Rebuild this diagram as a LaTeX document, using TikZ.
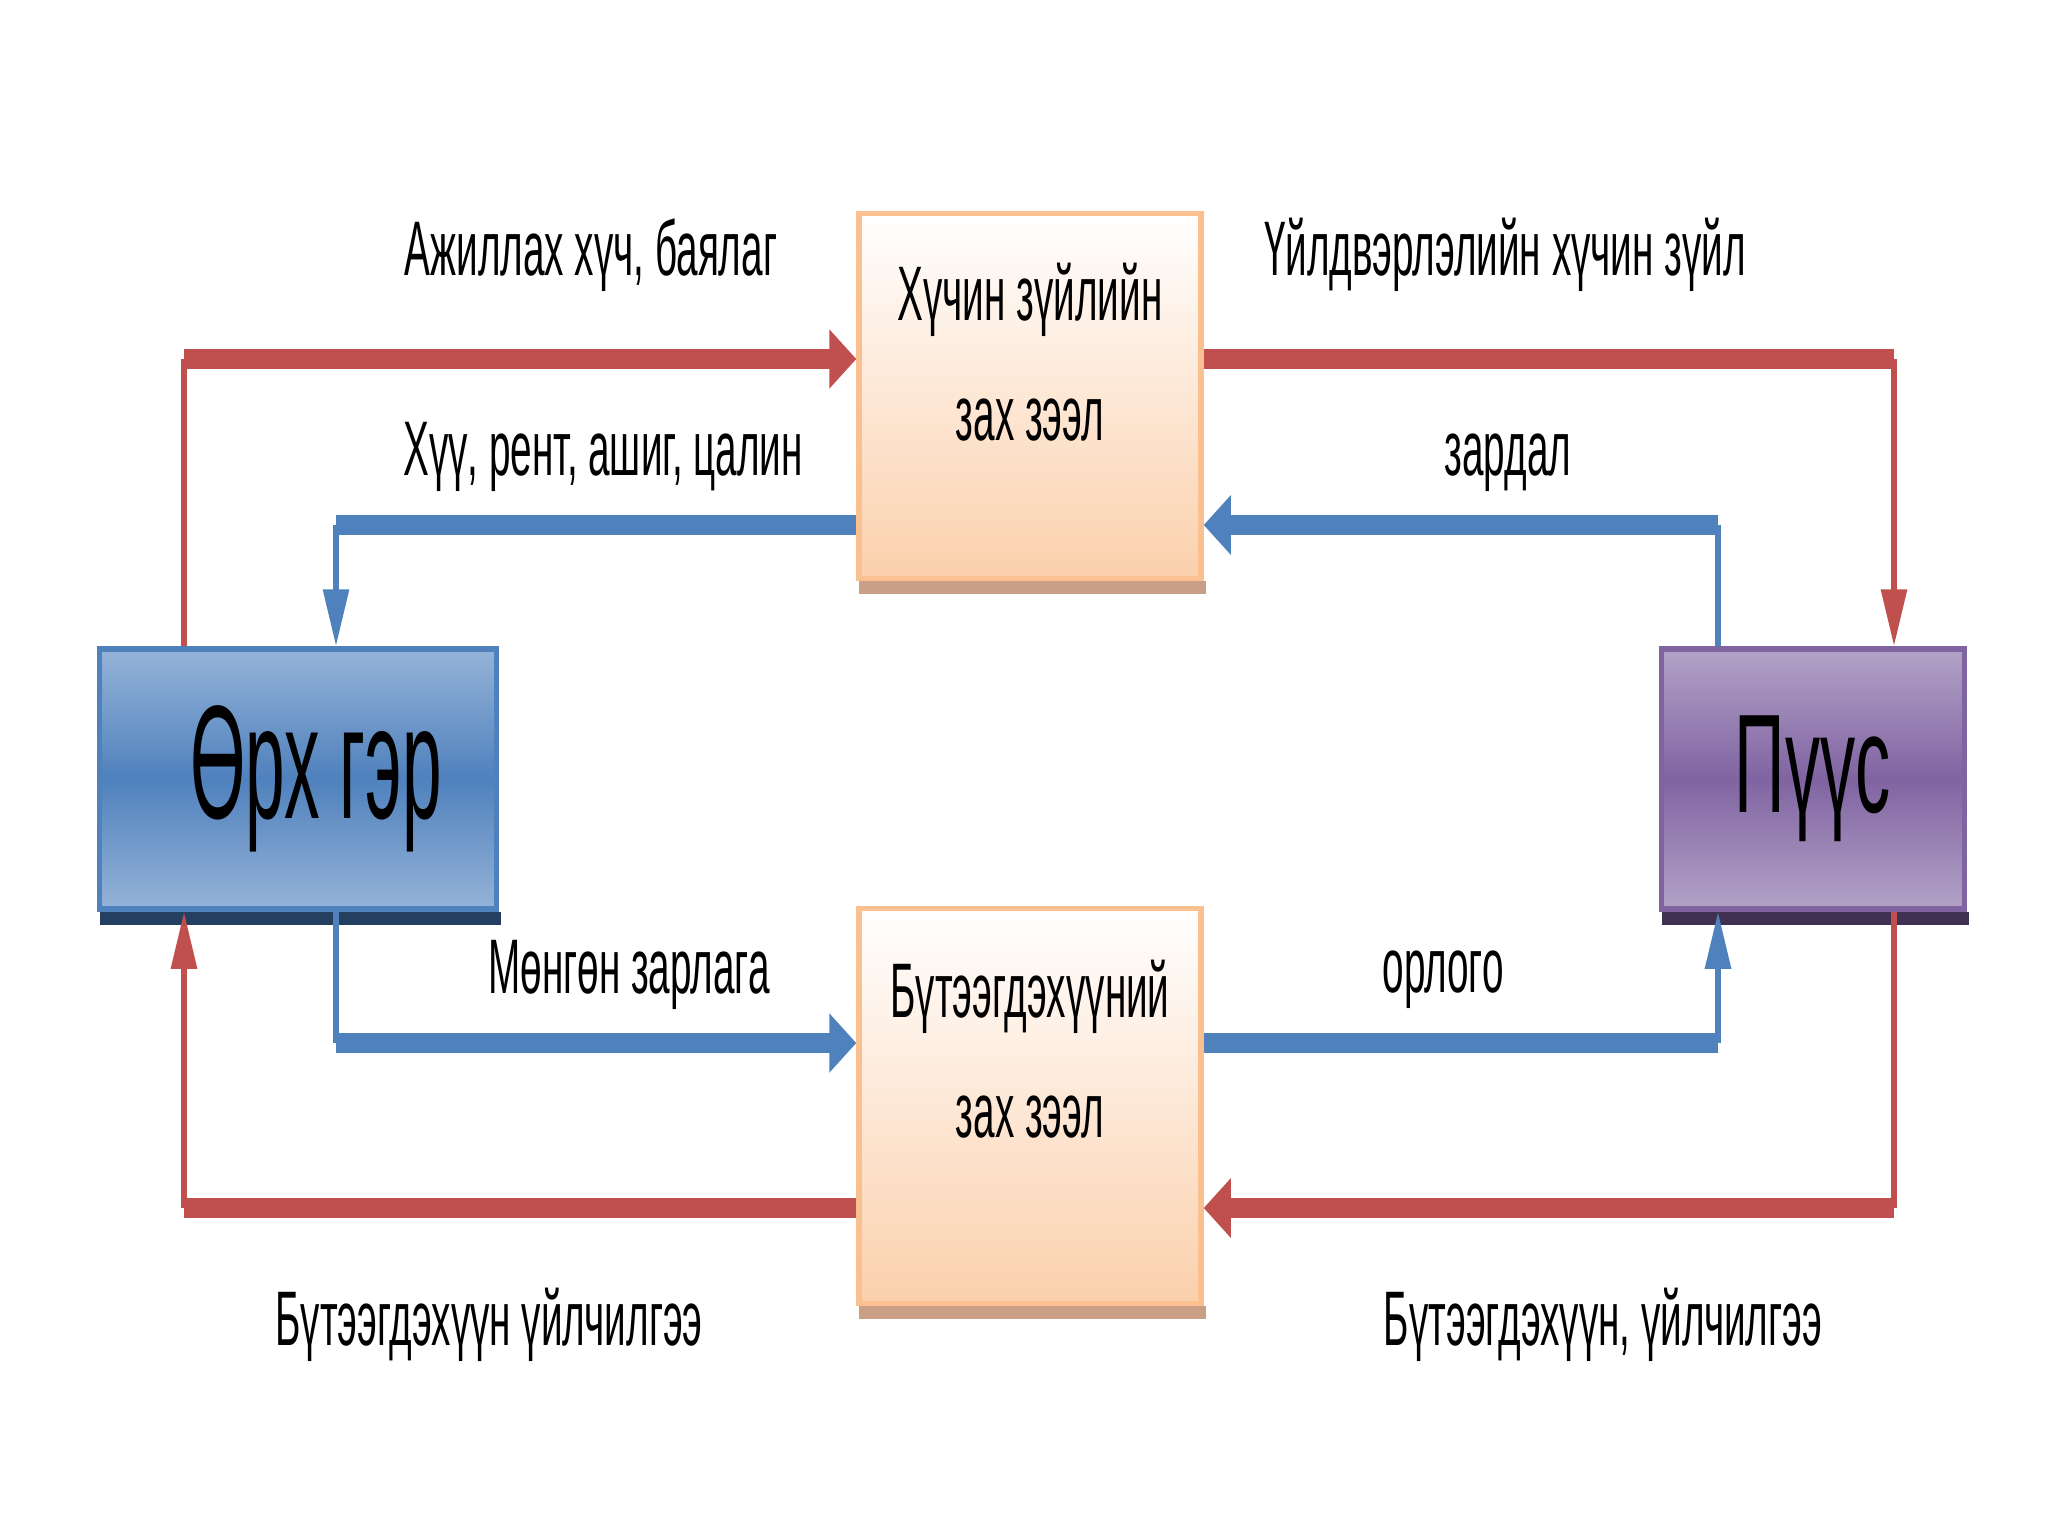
\documentclass[tikz,border=0pt]{standalone}
\usepackage{fontspec}
\setmainfont{Liberation Sans}[FakeStretch=0.5]
\newfontfamily\hhfont{Liberation Sans}[FakeStretch=0.44]
\usepackage{xcolor}
\usepackage{tikz}
\usetikzlibrary{positioning,arrows.meta,calc}

\definecolor{flowred}{HTML}{C0504D}
\definecolor{flowblue}{HTML}{4F81BD}
\definecolor{mktedge}{HTML}{FAC090}
\definecolor{mktfill}{HTML}{FBD0AC}
\definecolor{mktshade}{HTML}{C9A086}
\definecolor{hhlight}{HTML}{95B3D7}
\definecolor{hhshade}{HTML}{243F60}
\definecolor{firmlight}{HTML}{B3A2C7}
\definecolor{firmmid}{HTML}{8064A2}
\definecolor{firmshade}{HTML}{403152}

\tikzset{
  lbl/.style={anchor=base, inner sep=0pt, font=\fontsize{22}{26}\selectfont},
  mktbox/.style={draw=mktedge, line width=1.5pt, top color=white, bottom color=mktfill,
    minimum width=3.42cm, minimum height=3.65cm, inner sep=0pt},
  mkttext/.style={align=center, inner sep=0pt, font=\fontsize{22}{34}\selectfont},
  hhbox/.style={draw=flowblue, line width=1.5pt, top color=hhlight, bottom color=hhlight,
    middle color=flowblue, minimum width=3.97cm, minimum height=2.6cm},
  firmbox/.style={draw=firmmid, line width=1.5pt, top color=firmlight, bottom color=firmlight,
    middle color=firmmid, minimum width=3.03cm, minimum height=2.6cm,
    font=\fontsize{40}{44}\selectfont},
  redthick/.style={draw=flowred, line width=0.2cm},
  redthin/.style={draw=flowred, line width=0.06cm},
  bluethick/.style={draw=flowblue, line width=0.2cm},
  bluethin/.style={draw=flowblue, line width=0.06cm},
  tipwide/.style={-{Triangle[width=0.58cm,length=0.27cm]}},
  tiplong/.style={-{Triangle[width=0.25cm,length=0.57cm]}},
}

\begin{document}
\begin{tikzpicture}[x=0.01cm, y=-0.01cm]
  \useasboundingbox (0,0) rectangle (2048,1536);
  % boxes
  \node[hhbox] (hh) at (298,779) {};
  \node[inner sep=0pt, font=\hhfont\fontsize{46}{50}\selectfont] (hhtext)
    at ($(hh.center)+(0.18cm,0)$) {Өрх гэр};
  \node[firmbox] (firm) at (1813,779) {Пүүс};
  \node[mktbox] (fm) at (1030,396) {};
  \node[mktbox, minimum height=3.95cm] (pm) at (1030,1106) {};
  \node[mkttext, below=0.52cm of fm.north] (fmtext) {Хүчин зүйлийн\\зах зээл};
  \node[mkttext, below=0.54cm of pm.north] (pmtext) {Бүтээгдэхүүний\\зах зээл};
  % shadows under the boxes
  \fill[hhshade] ($(hh.south west)+(0.03cm,0)$) rectangle ($(hh.south east)+(0.02cm,-0.13cm)$);
  \fill[firmshade] ($(firm.south west)+(0.03cm,0)$) rectangle ($(firm.south east)+(0.02cm,-0.13cm)$);
  \fill[mktshade] ($(fm.south west)+(0.03cm,0)$) rectangle ($(fm.south east)+(0.02cm,-0.13cm)$);
  \fill[mktshade] ($(pm.south west)+(0.03cm,0)$) rectangle ($(pm.south east)+(0.02cm,-0.13cm)$);
  % corners of the flows
  \coordinate (crTL) at (184,359);
  \coordinate (crTR) at (1894,359);
  \coordinate (cbTL) at (336,525);
  \coordinate (cbTR) at (1718,525);
  \coordinate (cbBL) at (336,1043);
  \coordinate (cbBR) at (1718,1043);
  \coordinate (crBL) at (184,1208);
  \coordinate (crBR) at (1894,1208);
  % red flows (goods, factors)
  \draw[redthin] (crTL |- hh.north) -- (crTL);
  \draw[redthick, tipwide] (crTL) -- (fm.west |- crTL);
  \draw[redthick] (fm.east |- crTR) -- (crTR);
  \draw[redthin, tiplong] (crTR) -- (crTR |- firm.north);
  \draw[redthin] (crBR |- firm.south) -- (crBR);
  \draw[redthick, tipwide] (crBR) -- (pm.east |- crBR);
  \draw[redthick] (pm.west |- crBL) -- (crBL);
  \draw[redthin, tiplong] (crBL) -- (crBL |- hh.south);
  % blue flows (money)
  \draw[bluethin] (cbTR |- firm.north) -- (cbTR);
  \draw[bluethick, tipwide] (cbTR) -- (fm.east |- cbTR);
  \draw[bluethick] (fm.west |- cbTL) -- (cbTL);
  \draw[bluethin, tiplong] (cbTL) -- (cbTL |- hh.north);
  \draw[bluethin] (cbBL |- hh.south) -- (cbBL);
  \draw[bluethick, tipwide] (cbBL) -- (pm.west |- cbBL);
  \draw[bluethick] (pm.east |- cbBR) -- (cbBR);
  \draw[bluethin, tiplong] (cbBR) -- (cbBR |- firm.south);
  % labels
  \node[lbl] (lwork) at (591,275) {Ажиллах хүч, баялаг};
  \node[lbl] (linc) at (603,475) {Хүү, рент, ашиг, цалин};
  \node[lbl] (lfac) at (1505,275) {Үйлдвэрлэлийн хүчин зүйл};
  \node[lbl] (lcost) at (1508,475) {зардал};
  \node[lbl] (lspend) at (629,993) {Мөнгөн зарлага};
  \node[lbl] (lrev) at (1443,992) {орлого};
  \node[lbl] (lgoodsL) at (489,1345) {Бүтээгдэхүүн үйлчилгээ};
  \node[lbl] (lgoodsR) at (1603,1345) {Бүтээгдэхүүн, үйлчилгээ};
\end{tikzpicture}
\end{document}
